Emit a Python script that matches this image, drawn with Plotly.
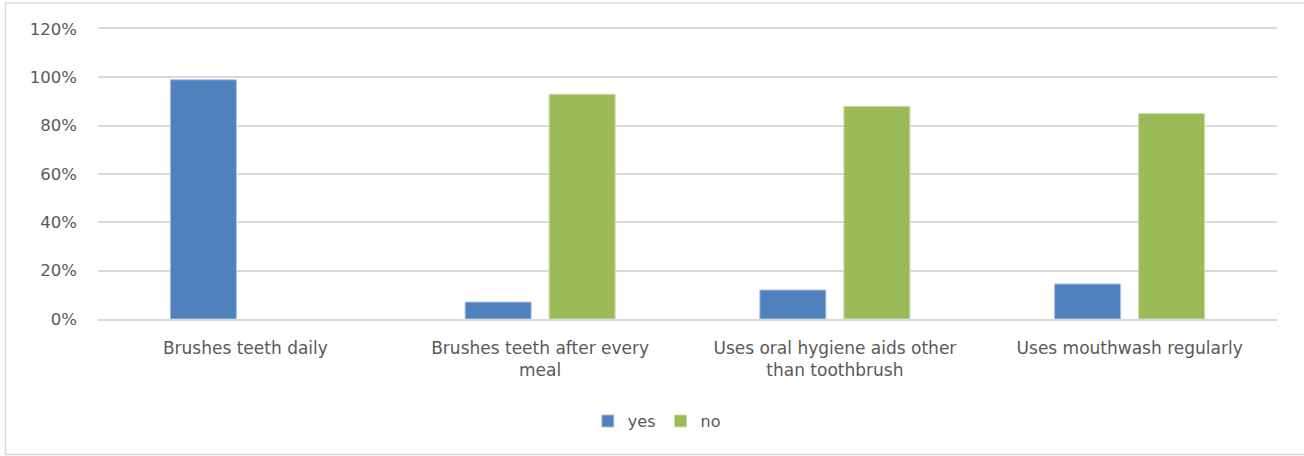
import plotly.graph_objects as go

categories = [
    "Brushes teeth daily",
    "Brushes teeth after every<br>meal",
    "Uses oral hygiene aids other<br>than toothbrush",
    "Uses mouthwash regularly",
]
yes_values = [0.99, 0.07, 0.12, 0.145]
no_values = [None, 0.93, 0.88, 0.85]
y_ticks = [0, 0.2, 0.4, 0.6, 0.8, 1.0, 1.2]

BLUE = "#4F81BD"
GREEN = "#9BBB59"
GRID = "#D9D9D9"
TEXT = "#595959"
FONT = "DejaVu Sans"

fig = go.Figure()
fig.add_trace(go.Bar(x=categories, y=yes_values, name="yes",
                     marker=dict(color=BLUE, line=dict(color="#A9C0DE", width=1))))
fig.add_trace(go.Bar(x=categories, y=no_values, name="no",
                     marker=dict(color=GREEN, line=dict(color="#CCDDAC", width=1))))

fig.update_layout(
    width=1304, height=456,
    margin=dict(l=98, r=27, t=29, b=137),
    paper_bgcolor="white", plot_bgcolor="white",
    barmode="group", bargap=0.43, bargroupgap=0.214,
    font=dict(family=FONT, size=16, color=TEXT),
    showlegend=True,
    legend=dict(orientation="h", x=0.474, xanchor="center", y=-0.352, yanchor="middle",
                font=dict(family=FONT, size=16, color=TEXT), itemwidth=30,
                traceorder="normal"),
    shapes=[dict(type="rect", xref="paper", yref="paper",
                 x0=-0.0785, x1=1.2, y0=-0.467, y1=1.090,
                 line=dict(color=GRID, width=1.5), layer="below")],
)
fig.update_xaxes(showgrid=False, showline=True, mirror=True, linecolor=GRID, linewidth=1.5,
                 ticks="", ticklabelstandoff=13,
                 tickfont=dict(family=FONT, size=17, color=TEXT))
fig.update_yaxes(range=[0, 1.2], tickvals=y_ticks, tickformat=".0%",
                 showgrid=True, gridcolor=GRID, gridwidth=1.5, zeroline=False,
                 showline=False, ticks="", ticklabelstandoff=20,
                 tickfont=dict(family=FONT, size=16.5, color=TEXT))

fig.write_html("out.html")
